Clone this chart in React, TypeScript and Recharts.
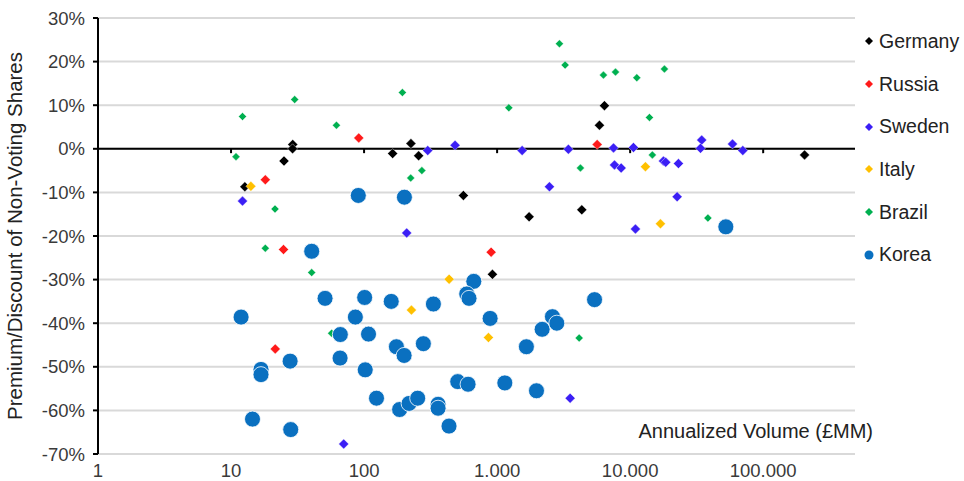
import React from 'react';
import {
  ScatterChart,
  Scatter,
  XAxis,
  YAxis,
  CartesianGrid,
  ReferenceLine,
} from 'recharts';

type Pt = { volume: number; premium: number };

const germany: Pt[] = [
  { volume: 12.7, premium: -8.7 }, { volume: 25.0, premium: -2.8 }, { volume: 29.1, premium: 1.0 },
  { volume: 29, premium: 0 }, { volume: 164, premium: -1.1 }, { volume: 225, premium: 1.2 },
  { volume: 257, premium: -1.6 }, { volume: 558, premium: -10.7 }, { volume: 922, premium: -28.8 },
  { volume: 1740, premium: -15.6 }, { volume: 4330, premium: -14.0 }, { volume: 5880, premium: 5.4 },
  { volume: 6410, premium: 9.9 }, { volume: 204600, premium: -1.4 },
];

const russia: Pt[] = [
  { volume: 18.1, premium: -7.1 }, { volume: 91.2, premium: 2.5 }, { volume: 24.8, premium: -23.1 },
  { volume: 21.5, premium: -45.9 }, { volume: 902, premium: -23.7 }, { volume: 5650, premium: 1.0 },
];

const sweden: Pt[] = [
  { volume: 12.2, premium: -12.0 }, { volume: 301, premium: -0.4 }, { volume: 209, premium: -19.3 },
  { volume: 483, premium: 0.8 }, { volume: 70.3, premium: -67.7 }, { volume: 1542, premium: -0.4 },
  { volume: 3435, premium: -0.1 }, { volume: 7500, premium: 0.2 }, { volume: 10590, premium: 0.3 },
  { volume: 7630, premium: -3.7 }, { volume: 8560, premium: -4.4 }, { volume: 17800, premium: -2.8 },
  { volume: 18520, premium: -3.1 }, { volume: 23060, premium: -3.4 }, { volume: 34500, premium: 2.0 },
  { volume: 33800, premium: 0.1 }, { volume: 58800, premium: 1.1 }, { volume: 70300, premium: -0.4 },
  { volume: 2475, premium: -8.7 }, { volume: 22550, premium: -11.0 }, { volume: 10960, premium: -18.4 },
  { volume: 3540, premium: -57.2 },
];

const italy: Pt[] = [
  { volume: 14.1, premium: -8.6 }, { volume: 436, premium: -29.9 }, { volume: 227, premium: -37.0 },
  { volume: 861, premium: -43.3 }, { volume: 13030, premium: -4.1 }, { volume: 16900, premium: -17.2 },
];

const brazil: Pt[] = [
  { volume: 10.9, premium: -1.8 }, { volume: 12.2, premium: 7.4 }, { volume: 21.4, premium: -13.8 },
  { volume: 30.1, premium: 11.3 }, { volume: 62, premium: 5.4 }, { volume: 194, premium: 12.9 },
  { volume: 224, premium: -6.7 }, { volume: 272, premium: -5.0 }, { volume: 18.1, premium: -22.8 },
  { volume: 40.4, premium: -28.4 }, { volume: 57, premium: -42.3 }, { volume: 1225, premium: 9.4 },
  { volume: 2940, premium: 24.1 }, { volume: 3245, premium: 19.2 }, { volume: 6300, premium: 16.9 },
  { volume: 7760, premium: 17.6 }, { volume: 11220, premium: 16.3 }, { volume: 18100, premium: 18.3 },
  { volume: 13970, premium: 7.2 }, { volume: 14700, premium: -1.4 }, { volume: 4230, premium: -4.4 },
  { volume: 38400, premium: -15.9 }, { volume: 4140, premium: -43.4 },
];

const korea: Pt[] = [
  { volume: 90.5, premium: -10.7 }, { volume: 201, premium: -11.1 }, { volume: 52400, premium: -17.9 },
  { volume: 40.4, premium: -23.5 }, { volume: 50.9, premium: -34.3 }, { volume: 101, premium: -34.1 },
  { volume: 160, premium: -35.0 }, { volume: 332, premium: -35.6 }, { volume: 668, premium: -30.4 },
  { volume: 591, premium: -33.3 }, { volume: 615, premium: -34.3 }, { volume: 11.9, premium: -38.6 },
  { volume: 86, premium: -38.6 }, { volume: 66.3, premium: -42.6 }, { volume: 108, premium: -42.5 },
  { volume: 175, premium: -45.4 }, { volume: 200, premium: -47.4 }, { volume: 279, premium: -44.7 },
  { volume: 66, premium: -48.0 }, { volume: 27.8, premium: -48.7 }, { volume: 16.8, premium: -50.6 },
  { volume: 16.8, premium: -51.8 }, { volume: 102, premium: -50.7 }, { volume: 124, premium: -57.2 },
  { volume: 185, premium: -59.8 }, { volume: 218, premium: -58.4 }, { volume: 253, premium: -57.2 },
  { volume: 360, premium: -58.6 }, { volume: 360, premium: -59.5 }, { volume: 435, premium: -63.6 },
  { volume: 14.5, premium: -62.0 }, { volume: 28.1, premium: -64.4 }, { volume: 886, premium: -38.9 },
  { volume: 1660, premium: -45.4 }, { volume: 2180, premium: -41.4 }, { volume: 2605, premium: -38.5 },
  { volume: 2810, premium: -40.0 }, { volume: 5400, premium: -34.6 }, { volume: 506, premium: -53.4 },
  { volume: 605, premium: -54.0 }, { volume: 1143, premium: -53.7 }, { volume: 1977, premium: -55.5 },
];

const xTicks = [1, 10, 100, 1000, 10000, 100000];
const yTicks = [-70, -60, -50, -40, -30, -20, -10, 0, 10, 20, 30];

const seriesList = [
  { name: 'Germany', data: germany, color: '#000000', size: 5, round: false },
  { name: 'Russia', data: russia, color: '#ff1a1a', size: 5, round: false },
  { name: 'Sweden', data: sweden, color: '#3b1ff5', size: 5, round: false },
  { name: 'Italy', data: italy, color: '#ffc000', size: 5, round: false },
  { name: 'Brazil', data: brazil, color: '#00b050', size: 4, round: false },
  { name: 'Korea', data: korea, color: '#0a70c0', size: 8, round: true },
];

const FONT = '"Liberation Sans", Arial, sans-serif';
const TEXT = '#3a3a3a';

const fmtVolume = (v: number) => String(v).replace(/\B(?=(\d{3})+(?!\d))/g, '.');

function makeShape(color: string, size: number, round: boolean) {
  return (props: any) => {
    const { cx, cy } = props;
    if (cx == null || cy == null) return <g />;
    if (round) {
      return <circle cx={cx} cy={cy} r={size} fill={color} stroke="#ffffff" strokeWidth={0.8} />;
    }
    const pts = `${cx},${cy - size} ${cx + size},${cy} ${cx},${cy + size} ${cx - size},${cy}`;
    return <polygon points={pts} fill={color} stroke="#ffffff" strokeWidth={0.4} />;
  };
}

function LegendBox() {
  return (
    <div
      style={{
        position: 'absolute',
        left: 862,
        top: 20,
        fontFamily: FONT,
        fontSize: 19.5,
        color: '#222',
      }}
    >
      {seriesList.map((s) => (
        <div key={s.name} style={{ display: 'flex', alignItems: 'center', height: 42.7 }}>
          <svg width={14} height={12} style={{ marginRight: 3 }}>
            {s.round ? (
              <circle cx={7} cy={6} r={4.5} fill={s.color} />
            ) : (
              <polygon points="7,2 11,6 7,10 3,6" fill={s.color} />
            )}
          </svg>
          <span>{s.name}</span>
        </div>
      ))}
    </div>
  );
}

export default function App() {
  return (
    <div style={{ position: 'absolute', left: 0, top: 0, width: 964, height: 481, background: '#fff' }}>
      <ScatterChart width={964} height={481} margin={{ top: 18, right: 109, bottom: 0, left: 0 }}>
        <CartesianGrid vertical={false} stroke="#d9d9d9" strokeWidth={2} />
        <XAxis
          type="number"
          dataKey="volume"
          scale="log"
          domain={[1, 490000]}
          ticks={xTicks}
          allowDataOverflow
          axisLine={false}
          tickLine={false}
          height={27}
          tickFormatter={fmtVolume}
          tick={{ fontSize: 18.5, fill: TEXT, fontFamily: FONT }}
          tickMargin={4}
        />
        <YAxis
          type="number"
          dataKey="premium"
          domain={[-70, 30]}
          ticks={yTicks}
          width={98}
          axisLine={{ stroke: '#000', strokeWidth: 2 }}
          tickLine={{ stroke: '#000', strokeWidth: 2 }}
          tickSize={5}
          tickMargin={8}
          tickFormatter={(v: number) => `${v}%`}
          tick={{ fontSize: 18.5, fill: TEXT, fontFamily: FONT }}
          label={{
            value: 'Premium/Discount of Non-Voting Shares',
            angle: -90,
            position: 'insideLeft',
            dx: 10,
            dy: 0,
            fontSize: 20.5,
            fill: '#222',
            fontFamily: FONT,
            style: { textAnchor: 'middle' },
          }}
        />
        <ReferenceLine y={0} stroke="#000" strokeWidth={2} />
        {xTicks.slice(1).map((t) => (
          <ReferenceLine
            key={t}
            segment={[{ x: t, y: 0 }, { x: t, y: -1 }]}
            stroke="#000"
            strokeWidth={2}
          />
        ))}
        <ReferenceLine
          y={-70}
          stroke="none"
          label={{
            value: 'Annualized Volume (£MM)',
            position: 'insideBottomRight',
            offset: 0,
            dy: -16,
            dx: 18,
            fontSize: 20,
            fill: '#222',
            fontFamily: FONT,
          }}
        />
        {seriesList.map((s) => (
          <Scatter
            key={s.name}
            name={s.name}
            data={s.data}
            fill={s.color}
            shape={makeShape(s.color, s.size, s.round)}
            isAnimationActive={false}
          />
        ))}
      </ScatterChart>
      <LegendBox />
    </div>
  );
}
